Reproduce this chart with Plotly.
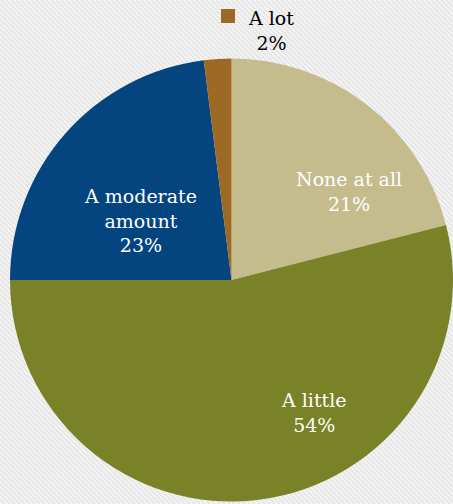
import plotly.graph_objects as go

# Survey responses, share of respondents (%)
categories = ["None at all", "A little", "A moderate amount", "A lot"]
display_labels = ["None at all", "A little", "A moderate<br>amount", "A lot"]
shares = [21, 54, 23, 2]
colors = ["#C4BC8C", "#7A8228", "#044580", "#9C6A24"]

W, H = 453, 504

fig = go.Figure(
    go.Pie(
        labels=categories,
        values=shares,
        sort=False,
        direction="clockwise",
        rotation=0,
        marker=dict(colors=colors, line=dict(width=0)),
        textinfo="none",
        hoverinfo="label+percent",
        domain=dict(x=[10 / W, 1], y=[0, 1 - 56 / H]),
        showlegend=False,
    )
)

# Subtle diagonal hatching in the page background
shapes = []
step = 5
for x0 in range(-H, W + step, step):
    shapes.append(
        dict(
            type="line", xref="paper", yref="paper", layer="below",
            x0=x0 / W, y0=1, x1=(x0 + H) / W, y1=0,
            line=dict(color="#E6E6E6", width=2),
        )
    )

# Data labels (pixel anchor of each text block)
label_pos = {
    "None at all": (349, 191, "white"),
    "A little": (314, 412, "white"),
    "A moderate amount": (140, 220, "white"),
    "A lot": (271, 30, "black"),
}
annotations = []
for cat, disp, val in zip(categories, display_labels, shares):
    px, py, col = label_pos[cat]
    annotations.append(
        dict(
            x=px / W, y=1 - py / H, xref="paper", yref="paper",
            text=f"{disp}<br>{val}%", showarrow=False,
            xanchor="center", yanchor="middle", align="center",
            font=dict(family="DejaVu Serif", size=19, color=col),
        )
    )

# Legend key beside the outside label
shapes.append(
    dict(
        type="rect", xref="paper", yref="paper",
        x0=221 / W, x1=235 / W, y0=1 - 23 / H, y1=1 - 9 / H,
        fillcolor=colors[3], line=dict(width=0),
    )
)

fig.update_layout(
    width=W, height=H,
    margin=dict(l=0, r=0, t=0, b=0),
    paper_bgcolor="#F7F7F7",
    shapes=shapes,
    annotations=annotations,
)

fig.write_html("out.html")
